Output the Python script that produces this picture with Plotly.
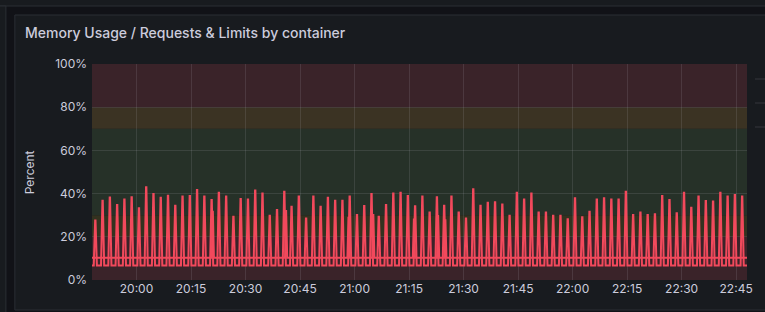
import plotly.graph_objects as go
import pandas as pd

# ---------------- data ----------------
start_time = "2024-01-01 19:48:40"     # time of first spike
cycle_minutes = 2
range_start = "2024-01-01 19:47:45"
range_end = "2024-01-01 22:48:00"

# spike peaks (percent), one per 2-minute cycle
peaks_usage = [27.6, 36.7, 38.2, 34.7, 37.3, 38.3, 33.2, 42.9, 39.8, 38.1,
               39.0, 34.4, 38.6, 38.9, 41.7, 38.6, 37.0, 40.4, 38.6, 29.3,
               37.5, 37.3, 41.4, 40.1, 29.8, 32.4, 40.9, 33.9, 38.6, 28.5,
               38.6, 33.9, 38.1, 36.7, 36.7, 38.6, 30.1, 34.3, 39.8, 29.3,
               34.7, 40.1, 40.4, 38.9, 34.1, 38.6, 31.3, 38.3, 34.4, 38.6,
               31.3, 28.5, 42.0, 34.4, 35.8, 36.0, 35.0, 29.8, 40.4, 37.3,
               40.1, 31.2, 31.2, 29.8, 29.8, 28.1, 37.8, 29.0, 31.6, 37.3,
               37.8, 37.3, 37.3, 40.9, 30.1, 31.3, 30.1, 30.4, 38.9, 37.0,
               30.9, 40.4, 33.5, 38.6, 36.6, 36.3, 40.4, 38.6, 39.4, 38.6]
usage_base = 6.7        # lower level between spikes

second_base = 10.3      # upper level of second container
second_cycles = [17, 27, 36, 39, 45, 48, 49]
second_peaks = [32.0, 32.4, 29.3, 30.6, 28.5, 30.1, 28.1]
second_offset_s = [20, 30, -20, 30, -20, 20, 20]

# thresholds (percent) -> band colours
band_edges = [0, 20, 30, 70, 80, 100]
band_colors = ["#3a2329", "#33321f", "#263128", "#3b3323", "#3a2329"]

y_ticks = [0, 20, 40, 60, 80, 100]
y_ticklabels = ["0%", "20%", "40%", "60%", "80%", "100%"]

title_text = "Memory Usage / Requests & Limits by container"
y_title = "Percent"

# ---------------- build series ----------------
t0 = pd.Timestamp(start_time)
s = lambda n: pd.Timedelta(seconds=n)
xs_a, ys_a = [pd.Timestamp(range_start)], [usage_base]
for k, p in enumerate(peaks_usage):
    tk = t0 + pd.Timedelta(minutes=cycle_minutes * k)
    xs_a += [tk - s(26), tk - s(3), tk + s(3), tk + s(26)]
    ys_a += [usage_base, p, p, usage_base]
xs_a.append(pd.Timestamp(range_end))
ys_a.append(usage_base)

xs_b, ys_b = [pd.Timestamp(range_start)], [second_base]
for c, p, off in zip(second_cycles, second_peaks, second_offset_s):
    tk = t0 + pd.Timedelta(minutes=cycle_minutes * (c - 1)) + s(off)
    xs_b += [tk - s(18), tk, tk + s(18)]
    ys_b += [second_base, p, second_base]
xs_b.append(pd.Timestamp(range_end))
ys_b.append(second_base)

RED = "#F2495C"
fig = go.Figure()
fig.add_trace(go.Scatter(x=xs_b, y=ys_b, mode="lines",
                         line=dict(color=RED, width=2), hoverinfo="skip"))
fig.add_trace(go.Scatter(x=xs_a, y=ys_a, mode="lines",
                         line=dict(color=RED, width=2), hoverinfo="skip"))

# ---------------- layout geometry ----------------
W, H = 765, 312
L, R, T, B = 92, 15, 64, 32
PW, PH = W - L - R, H - T - B


def px(xp):
    return (xp - L) / PW


def py(yp):
    return (H - B - yp) / PH


shapes = []
# neighbouring panels (top and left) and this panel
shapes.append(dict(type="rect", xref="paper", yref="paper",
                   x0=px(-5), x1=px(780), y0=py(-5), y1=py(6),
                   fillcolor="#181b1f", line=dict(color="#2b2e34", width=1), layer="below"))
shapes.append(dict(type="rect", xref="paper", yref="paper",
                   x0=px(-5), x1=px(5.5), y0=py(330), y1=py(6),
                   fillcolor="#181b1f", line=dict(color="#2b2e34", width=1), layer="below"))
shapes.append(dict(type="rect", xref="paper", yref="paper",
                   x0=px(14.5), x1=px(780), y0=py(310), y1=py(15),
                   fillcolor="#181b1f", line=dict(color="#2b2e34", width=1), layer="below"))
# threshold bands
for lo, hi, col in zip(band_edges[:-1], band_edges[1:], band_colors):
    shapes.append(dict(type="rect", xref="paper", yref="y", x0=0, x1=1,
                       y0=lo, y1=hi, fillcolor=col, line=dict(width=0), layer="below"))
# faint marks at the far right edge
for yy in (79, 103, 127):
    shapes.append(dict(type="line", xref="paper", yref="paper",
                       x0=px(758), x1=px(770), y0=py(yy), y1=py(yy),
                       line=dict(color="#34373d", width=1)))

annotations = [
    dict(text=title_text, xref="paper", yref="paper", x=px(23), y=py(33),
         xanchor="left", yanchor="middle", showarrow=False,
         font=dict(family="Inter", size=14, color="#ccccdc", weight=500)),
    dict(text=y_title, xref="paper", yref="paper", x=px(29), y=py(172),
         xanchor="center", yanchor="middle", showarrow=False, textangle=-90,
         font=dict(family="Inter", size=12, color="#ccccdc")),
]

grid_col = "rgba(204,204,220,0.13)"
fig.update_layout(
    width=W, height=H,
    margin=dict(l=L, r=R, t=T, b=B, pad=0),
    paper_bgcolor="#111217", plot_bgcolor="rgba(0,0,0,0)",
    showlegend=False,
    shapes=shapes, annotations=annotations,
    font=dict(family="Inter", size=12, color="#ccccdc"),
    xaxis=dict(type="date", range=[range_start, range_end],
               tick0="2024-01-01 20:00:00", dtick=15 * 60 * 1000,
               tickformat="%H:%M", showgrid=True, gridcolor=grid_col, gridwidth=1,
               zeroline=False, showline=False, ticks="",
               tickfont=dict(family="Inter", size=12, color="#ccccdc")),
    yaxis=dict(range=[0, 100], tickvals=y_ticks, ticktext=y_ticklabels,
               showgrid=True, gridcolor=grid_col, gridwidth=1,
               zeroline=False, showline=False, ticks="",
               ticklabelstandoff=4,
               tickfont=dict(family="Inter", size=12, color="#ccccdc")),
)

fig.write_html("out.html")
